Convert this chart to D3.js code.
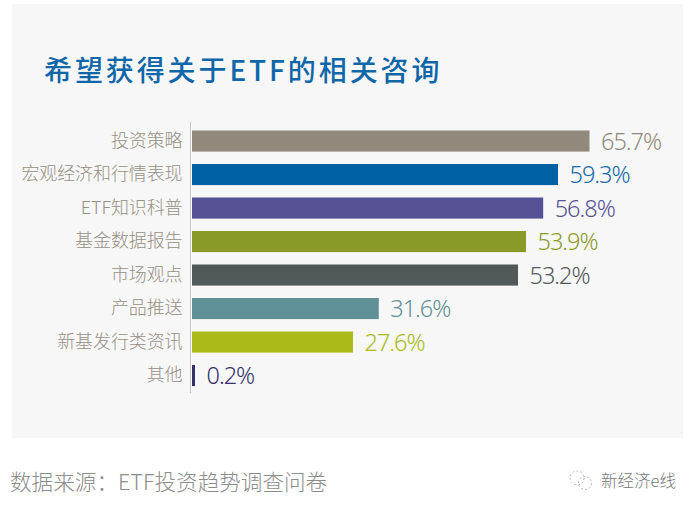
<!DOCTYPE html>
<html>
<head>
<meta charset="utf-8">
<script src="https://cdnjs.cloudflare.com/ajax/libs/d3/7.8.5/d3.min.js"></script>
<style>
  body { margin: 0; background: #fff; }
  svg { display: block; font-family: "Noto Sans CJK SC", sans-serif; }
</style>
</head>
<body>
<div id="chart"></div>
<script>
const categories = ["投资策略", "宏观经济和行情表现", "ETF知识科普", "基金数据报告", "市场观点", "产品推送", "新基发行类资讯", "其他"];
const values = [65.7, 59.3, 56.8, 53.9, 53.2, 31.6, 27.6, 0.2];
const barColors = ["#91897b", "#0060a4", "#565194", "#8a9a28", "#52595b", "#5f9098", "#a9bb17", "#35306e"];
const labelColors = ["#91897b", "#1568aa", "#565194", "#8a9a28", "#52595b", "#5f9098", "#a9bb17", "#35306e"];

const width = 700;
const height = 512;

const svg = d3.select("#chart")
    .append("svg")
    .attr("width", width)
    .attr("height", height);

// panel
svg.append("rect")
    .attr("x", 12)
    .attr("y", 4)
    .attr("width", 671)
    .attr("height", 434)
    .attr("fill", "#f7f7f7");

// title
svg.append("text")
    .attr("x", 44)
    .attr("y", 81)
    .attr("fill", "#0f66a8")
    .style("font-size", "28px")
    .style("font-weight", 500)
    .style("letter-spacing", "2.9px")
    .text("希望获得关于ETF的相关咨询");

// the bars in the source are not quite proportional, so the scale has a few knots
const x = d3.scaleLinear()
    .domain([0, 27.6, 53.2, 53.9, 59.3, 65.7])
    .range([192, 353, 518, 526, 558, 589.5]);

const y = d3.scaleBand()
    .domain(categories)
    .range([124.3, 392.3])
    .paddingInner(0.37)
    .paddingOuter(0.185);

// bars, the smallest one keeps a visible width
const barEnd = v => Math.max(x(v), x(0) + 3);

svg.selectAll(".bar")
    .data(categories)
    .join("rect")
    .attr("class", "bar")
    .attr("x", x(0))
    .attr("y", d => y(d))
    .attr("width", (d, i) => barEnd(values[i]) - x(0))
    .attr("height", y.bandwidth())
    .attr("fill", (d, i) => barColors[i]);

// category axis
const yAxis = svg.append("g")
    .attr("transform", "translate(190.5,0)")
    .call(d3.axisLeft(y).tickSize(0).tickPadding(8));

yAxis.select(".domain")
    .attr("stroke", "#c4c4c4")
    .attr("d", "M0,122V393");

yAxis.selectAll("text")
    .attr("fill", "#968f83")
    .style("font-family", '"Noto Sans CJK SC", sans-serif')
    .style("font-size", "18px")
    .style("font-weight", 300)
    .style("letter-spacing", "-0.1px");

// value labels
svg.selectAll(".value")
    .data(values)
    .join("text")
    .attr("class", "value")
    .attr("x", d => barEnd(d) + 11.5)
    .attr("y", (d, i) => y(categories[i]) + y.bandwidth() / 2 + 8.5)
    .attr("fill", (d, i) => labelColors[i])
    .style("font-family", '"Noto Sans", sans-serif')
    .style("font-size", "23.5px")
    .style("font-weight", 300)
    .style("letter-spacing", "-1px")
    .text(d => d3.format(".1f")(d) + "%");

// source line
svg.append("text")
    .attr("x", 10)
    .attr("y", 490)
    .attr("fill", "#8c8c8c")
    .style("font-size", "21.6px")
    .style("font-weight", 300)
    .text("数据来源：ETF投资趋势调查问卷");

// watermark
const mark = svg.append("g")
    .attr("transform", "translate(581,480)")
    .attr("fill", "none")
    .attr("stroke", "#bbbbbb")
    .attr("stroke-dasharray", "2 2");

mark.append("circle").attr("cx", -4).attr("cy", -2).attr("r", 7);
mark.append("circle").attr("cx", 4).attr("cy", 3).attr("r", 6.5);

svg.append("text")
    .attr("x", 601)
    .attr("y", 487)
    .attr("fill", "#777777")
    .style("font-size", "16.5px")
    .style("font-weight", 300)
    .text("新经济e线");
</script>
</body>
</html>
